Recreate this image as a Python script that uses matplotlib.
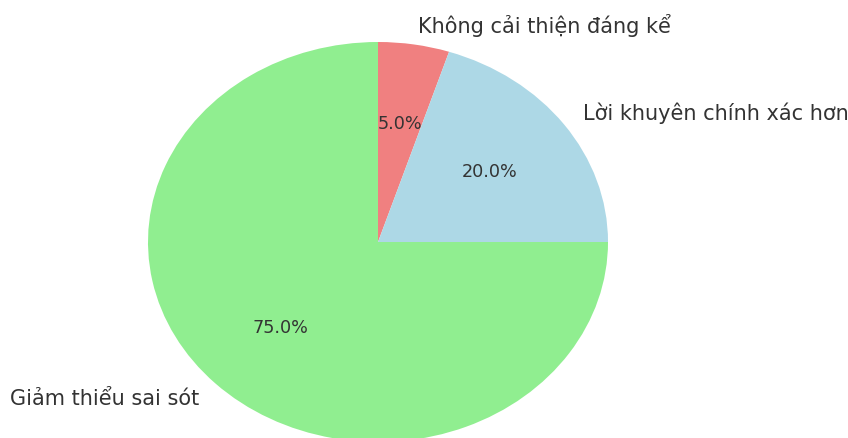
import matplotlib.pyplot as plt

labels = ['Không cải thiện đáng kể', 'Lời khuyên chính xác hơn', 'Giảm thiểu sai sót']
sizes = [5, 20, 75]
colors = ['lightcoral', 'lightblue', 'lightgreen']

plt.rcParams['font.family'] = ['DejaVu Sans']
fig = plt.figure(figsize=(8.48, 4.39), dpi=100)
ax = fig.add_axes([148 / 848, (439 - 443) / 439, 460 / 848, 400 / 439])

wedges, texts, autotexts = ax.pie(
    sizes, labels=labels, colors=colors, autopct='%1.1f%%',
    startangle=90, counterclock=False,
    textprops={'fontsize': 15, 'color': '#333333'},
)
for t in autotexts:
    t.set_fontsize(12.7)
    t.set_color('#333333')

ax.set_aspect('auto')
ax.set_xlim(-1, 1)
ax.set_ylim(-1, 1)
ax.axis('off')

fig.savefig('out.png', dpi=100)
plt.close(fig)
